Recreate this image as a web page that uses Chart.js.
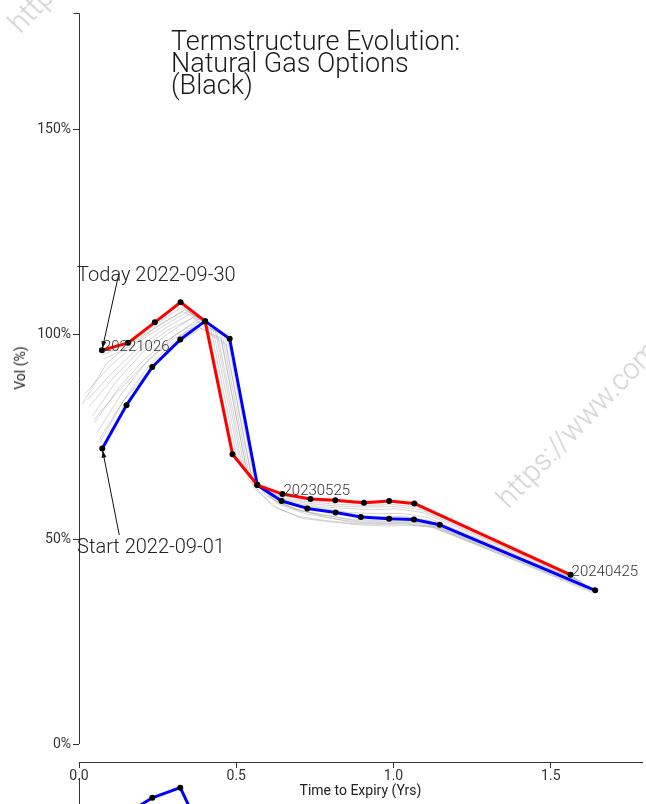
<!DOCTYPE html>
<html>

<head>
  <title>Termstructure Evolution: Natural Gas Options (Black)</title>
  <script src="https://cdn.jsdelivr.net/npm/chart.js"></script>
  <style>
    body { margin: 0; background: #fff; overflow: hidden; }
    #wrap { position: relative; width: 646px; height: 804px; overflow: hidden; font-family: Roboto, sans-serif; }
    #lower { position: absolute; left: 0; top: 770px; }
    #main { position: absolute; left: 0; top: 0; }
    .mark { position: absolute; color: #d0d0d0; font-size: 29px; font-weight: 300; line-height: 1; white-space: nowrap;
            transform-origin: 0 100%; transform: rotate(-46deg); }
    #title { position: absolute; left: 171px; top: 30px; font-size: 27px; line-height: 22px; font-weight: 300; color: #1a1a1a; }
    #ylab { position: absolute; left: 20px; top: 368px; transform: translate(-50%, -50%) rotate(-90deg);
            font-size: 14px; color: #222; white-space: nowrap; }
  </style>
</head>

<body>
  <div id="wrap">
    <canvas id="lower" width="646" height="400"></canvas>
    <canvas id="main" width="646" height="804"></canvas>
    <div class="mark" style="left:24px; top:9px;">https://www.commodity-vol.com</div>
    <div class="mark" style="left:512px; top:484px;">https://www.commodity-vol.com</div>
    <div id="title">Termstructure Evolution:<br>Natural Gas Options<br>(Black)</div>
    <div id="ylab">Vol (%)</div>
  </div>
  <script>

    // start curve 2022-09-01 (blue)
    let blueX = [0.074, 0.151, 0.233, 0.322, 0.401, 0.479, 0.567, 0.644, 0.726, 0.816, 0.896, 0.986, 1.065, 1.147, 1.641];
    let blueY = [72.1, 82.7, 92.0, 98.7, 103.2, 98.9, 63.2, 59.3, 57.5, 56.5, 55.4, 55.0, 54.8, 53.5, 37.5];

    // today curve 2022-09-30 (red)
    let redX = [0.073, 0.156, 0.241, 0.323, 0.401, 0.488, 0.567, 0.647, 0.736, 0.815, 0.906, 0.986, 1.066, 1.563];
    let redY = [96.1, 97.9, 102.9, 107.8, 103.2, 70.7, 63.2, 61.0, 59.8, 59.5, 58.9, 59.3, 58.7, 41.3];

    // contract labels on the red curve
    let expiryIdx = [0, 7, 13];
    let expiryLabels = ['20221026', '20230525', '20240425'];

    // days in between (grey)
    let greyX = [
      [0.066, 0.143, 0.225, 0.314, 0.393, 0.471, 0.559, 0.636, 0.718, 0.808, 0.888, 0.978, 1.057, 1.139, 1.633],
      [0.062, 0.139, 0.221, 0.310, 0.389, 0.467, 0.555, 0.632, 0.714, 0.804, 0.884, 0.974, 1.053, 1.135, 1.629],
      [0.058, 0.135, 0.217, 0.306, 0.385, 0.463, 0.551, 0.628, 0.710, 0.800, 0.880, 0.970, 1.049, 1.131, 1.625],
      [0.050, 0.127, 0.209, 0.298, 0.377, 0.455, 0.543, 0.620, 0.702, 0.792, 0.872, 0.962, 1.041, 1.123, 1.617],
      [0.046, 0.123, 0.205, 0.294, 0.373, 0.451, 0.539, 0.616, 0.698, 0.788, 0.868, 0.958, 1.037, 1.119, 1.613],
      [0.042, 0.119, 0.201, 0.290, 0.369, 0.447, 0.535, 0.612, 0.694, 0.784, 0.864, 0.954, 1.033, 1.115, 1.609],
      [0.034, 0.111, 0.193, 0.282, 0.361, 0.439, 0.527, 0.604, 0.686, 0.776, 0.856, 0.946, 1.025, 1.107, 1.601],
      [0.027, 0.104, 0.186, 0.275, 0.354, 0.432, 0.520, 0.597, 0.679, 0.769, 0.849, 0.939, 1.018, 1.100, 1.594],
      [0.019, 0.096, 0.178, 0.267, 0.346, 0.424, 0.512, 0.589, 0.671, 0.761, 0.841, 0.931, 1.010, 1.092, 1.586],
      [0.011, 0.088, 0.170, 0.259, 0.338, 0.416, 0.504, 0.581, 0.663, 0.753, 0.833, 0.923, 1.002, 1.084, 1.578],
      [0.080, 0.162, 0.251, 0.330, 0.408, 0.496, 0.573, 0.655, 0.745, 0.825, 0.915, 0.994, 1.076, 1.570],
      [0.075, 0.157, 0.246, 0.325, 0.403, 0.491, 0.568, 0.650, 0.740, 0.820, 0.910, 0.989, 1.071, 1.565]
    ];
    let greyY = [
      [73.5, 84.0, 92.6, 99.1, 103.7, 99.3, 64.0, 58.5, 56.2, 55.0, 54.2, 54.0, 54.1, 53.0, 37.2],
      [74.0, 83.5, 91.0, 97.5, 101.5, 97.5, 62.5, 57.5, 55.0, 54.2, 53.5, 53.2, 53.4, 52.8, 37.0],
      [76.0, 85.5, 93.5, 99.8, 104.0, 99.5, 64.5, 59.0, 56.8, 55.6, 54.5, 54.3, 54.4, 53.4, 38.2],
      [78.5, 87.0, 94.0, 99.5, 103.0, 100.0, 65.0, 59.5, 57.0, 55.3, 54.0, 53.8, 53.9, 53.0, 38.5],
      [79.0, 86.0, 92.5, 98.5, 102.0, 99.0, 64.5, 58.0, 55.5, 54.5, 53.8, 53.6, 53.7, 53.0, 38.0],
      [80.0, 88.5, 95.5, 100.5, 104.5, 101.0, 66.0, 60.5, 58.0, 56.8, 55.8, 55.5, 55.6, 54.5, 39.0],
      [82.5, 89.5, 96.0, 101.0, 104.0, 100.5, 67.0, 61.0, 58.5, 57.5, 56.5, 56.2, 56.3, 55.3, 39.5],
      [84.0, 90.5, 96.5, 101.5, 105.0, 101.5, 67.5, 60.5, 57.5, 56.0, 55.0, 54.6, 54.8, 54.0, 39.8],
      [85.5, 92.0, 97.5, 102.0, 105.5, 102.0, 68.5, 61.5, 59.0, 58.0, 57.5, 57.2, 57.4, 56.5, 40.2],
      [83.0, 93.0, 98.0, 102.5, 106.0, 102.5, 69.0, 62.0, 59.5, 58.5, 58.0, 57.8, 58.0, 57.2, 40.5],
      [94.0, 97.0, 102.0, 105.5, 102.5, 69.5, 62.5, 60.0, 59.0, 58.5, 58.2, 58.5, 57.8, 41.0],
      [95.0, 97.5, 102.5, 106.5, 103.0, 70.0, 63.0, 60.5, 59.5, 59.0, 58.6, 59.0, 58.3, 41.5]
    ];

    // lower panel (only its top edge is in view)
    let lowerX = [0.074, 0.151, 0.233, 0.322, 0.401, 0.479];
    let lowerY = [88.0, 90.8, 94.9, 97.5, 83.9, 80.0];

    let xTicks = [0, 0.5, 1.0, 1.5];
    let yTicks = [0, 50, 100, 150];

    Chart.defaults.font.family = "Roboto, 'DejaVu Sans', sans-serif";
    Chart.defaults.color = '#333';

    function pts(xs, ys) {
      return xs.map((x, i) => ({ x: x, y: ys[i] }));
    }

    let greySets = greyX.map((xs, k) => ({
      data: pts(xs, greyY[k]),
      borderColor: 'rgba(150, 150, 150, 0.4)',
      borderWidth: 1,
      pointRadius: 0,
      order: 3
    }));

    // draws the left spine only over the data range, and the callouts
    let extras = {
      id: 'extras',
      afterDatasetsDraw(chart) {
        let ctx = chart.ctx;
        let xs = chart.scales.x, ys = chart.scales.y;
        let left = chart.chartArea.left + 0.5;
        let y0 = ys.getPixelForValue(0), yTop = chart.chartArea.top + 0.5;
        ctx.save();
        ctx.strokeStyle = '#333';
        ctx.lineWidth = 1;
        ctx.beginPath();
        ctx.moveTo(left - 6, yTop);
        ctx.lineTo(left, yTop);
        ctx.lineTo(left, y0);
        ctx.stroke();

        // contract expiry labels
        let redMeta = chart.getDatasetMeta(0);
        ctx.fillStyle = '#333';
        ctx.font = "300 15px Roboto, sans-serif";
        ctx.textBaseline = 'alphabetic';
        expiryIdx.forEach((idx, i) => {
          let p = redMeta.data[idx];
          ctx.fillText(expiryLabels[i], p.x + 1, p.y + 1);
        });

        // arrows to the first point of each curve
        let notes = [
          { text: 'Today 2022-09-30', meta: 0, tx: -0.006, ty: 112.9, ax: 0.127, ay: 114.9 },
          { text: 'Start 2022-09-01', meta: 1, tx: -0.006, ty: 46.6, ax: 0.128, ay: 51.0 }
        ];
        ctx.font = "300 20px Roboto, sans-serif";
        ctx.fillStyle = '#222';
        notes.forEach(n => {
          let p = chart.getDatasetMeta(n.meta).data[0];
          let sx = xs.getPixelForValue(n.ax), sy = ys.getPixelForValue(n.ay);
          let ang = Math.atan2(p.y - sy, p.x - sx);
          let ex = p.x - Math.cos(ang) * 2, ey = p.y - Math.sin(ang) * 2;
          ctx.strokeStyle = '#111';
          ctx.beginPath();
          ctx.moveTo(sx, sy);
          ctx.lineTo(ex, ey);
          ctx.stroke();
          ctx.beginPath();
          ctx.moveTo(ex, ey);
          ctx.lineTo(ex - Math.cos(ang) * 7 + Math.sin(ang) * 2.5, ey - Math.sin(ang) * 7 - Math.cos(ang) * 2.5);
          ctx.lineTo(ex - Math.cos(ang) * 7 - Math.sin(ang) * 2.5, ey - Math.sin(ang) * 7 + Math.cos(ang) * 2.5);
          ctx.closePath();
          ctx.fillStyle = '#111';
          ctx.fill();
          ctx.fillStyle = '#222';
          ctx.fillText(n.text, xs.getPixelForValue(n.tx), ys.getPixelForValue(n.ty));
        });
        ctx.restore();
      }
    };

    let lowerChart = new Chart(document.getElementById('lower').getContext('2d'), {
      type: 'line',
      data: {
        datasets: [{
          data: pts(lowerX, lowerY),
          borderColor: '#0000ff',
          borderWidth: 3,
          pointRadius: 3,
          pointBorderWidth: 0,
          pointBackgroundColor: '#000'
        }]
      },
      options: {
        responsive: false,
        animation: false,
        layout: { padding: { top: 8, right: 1 } },
        plugins: { legend: { display: false }, tooltip: { enabled: false } },
        scales: {
          x: { type: 'linear', min: 0, max: 1.79, display: false },
          y: {
            min: 0, max: 100,
            border: { color: '#333', width: 1 },
            grid: { display: false },
            ticks: { display: false },
            afterFit: s => { s.width = 79; }
          }
        }
      }
    });

    let myChart = new Chart(document.getElementById('main').getContext('2d'), {
      type: 'line',
      data: {
        datasets: [{
          label: 'Today 2022-09-30',
          data: pts(redX, redY),
          borderColor: '#ff0000',
          borderWidth: 3,
          borderJoinStyle: 'round',
          pointRadius: 3,
          pointBorderWidth: 0,
          pointBackgroundColor: '#000',
          order: 1
        }, {
          label: 'Start 2022-09-01',
          data: pts(blueX, blueY),
          borderColor: '#0000ff',
          borderWidth: 3,
          borderJoinStyle: 'round',
          pointRadius: 3,
          pointBorderWidth: 0,
          pointBackgroundColor: '#000',
          order: 2
        }].concat(greySets)
      },
      options: {
        responsive: false,
        animation: false,
        layout: { padding: { top: 13, right: 1, left: 0, bottom: 0 } },
        plugins: { legend: { display: false }, tooltip: { enabled: false } },
        scales: {
          x: {
            type: 'linear', min: 0, max: 1.79,
            afterBuildTicks: s => { s.ticks = xTicks.map(v => ({ value: v })); },
            border: { color: '#333', width: 1 },
            grid: { drawOnChartArea: false, tickLength: 6, color: '#333' },
            ticks: { font: { size: 14 }, color: '#333', padding: 0, callback: v => v.toFixed(1) },
            title: { display: true, text: 'Time to Expiry (Yrs)', font: { size: 14 }, color: '#222', padding: { top: 0, bottom: 4 } },
            afterFit: s => { s.height = 42; }
          },
          y: {
            min: -4.39, max: 178.4,
            afterBuildTicks: s => { s.ticks = yTicks.map(v => ({ value: v })); },
            border: { display: false },
            grid: { drawOnChartArea: false, tickLength: 6, color: '#333' },
            ticks: { font: { size: 14 }, color: '#333', padding: 2, callback: v => v + '%' },
            afterFit: s => { s.width = 79; }
          }
        }
      },
      plugins: [extras]
    });

  </script>
</body>

</html>
